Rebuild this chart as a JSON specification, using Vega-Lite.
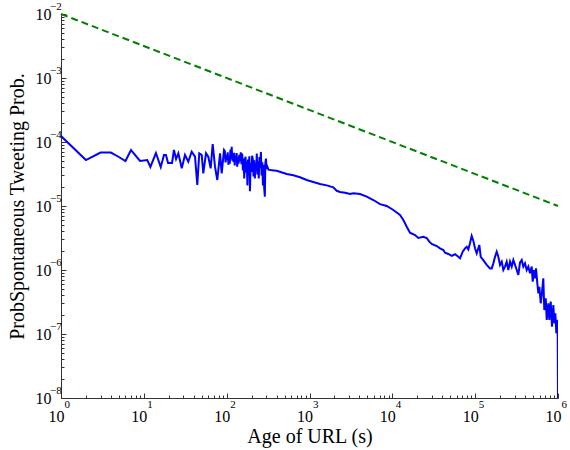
{
  "$schema": "https://vega.github.io/schema/vega-lite/v6.json",
  "width": 497,
  "height": 384,
  "autosize": "none",
  "padding": {"left": 61, "top": 14, "right": 12, "bottom": 52},
  "background": "white",
  "config": {
    "view": {"stroke": null},
    "font": "Liberation Serif",
    "axis": {
      "grid": false,
      "domainColor": "#333333",
      "domainWidth": 1,
      "tickColor": "#333333",
      "tickWidth": 1,
      "labelFont": "Liberation Serif",
      "labelFontSize": 16,
      "labelColor": "black",
      "labelOverlap": false,
      "labelFlush": false,
      "titleFont": "Liberation Serif",
      "titleFontSize": 20,
      "titleFontWeight": "normal",
      "titleColor": "black"
    }
  },
  "encoding": {
    "x": {
      "field": "age",
      "type": "quantitative",
      "scale": {"type": "log", "domain": [1, 1000000], "nice": false},
      "axis": {
        "title": "Age of URL (s)",
        "values": [1, 2, 3, 4, 5, 6, 7, 8, 9, 10, 20, 30, 40, 50, 60, 70, 80, 90, 100, 200, 300, 400, 500, 600, 700, 800, 900, 1000, 2000, 3000, 4000, 5000, 6000, 7000, 8000, 9000, 10000, 20000, 30000, 40000, 50000, 60000, 70000, 80000, 90000, 100000, 200000, 300000, 400000, 500000, 600000, 700000, 800000, 900000, 1000000],
        "labelExpr": "abs(log(datum.value)/LN10 - round(log(datum.value)/LN10)) < 0.01 ? '10' : ''",
        "tickSize": {"condition": {"test": "abs(log(datum.value)/LN10 - round(log(datum.value)/LN10)) < 0.01", "value": -5}, "value": -3},
        "labelPadding": 15,
        "labelOffset": -5,
        "titlePadding": 0
      }
    },
    "y": {
      "field": "p",
      "type": "quantitative",
      "scale": {"type": "log", "domain": [1e-8, 1e-2], "nice": false},
      "axis": {
        "title": "ProbSpontaneous Tweeting Prob.",
        "values": [1e-8, 2e-8, 3e-8, 4e-8, 5e-8, 6e-8, 7e-8, 8e-8, 9e-8, 1e-7, 2e-7, 3e-7, 4e-7, 5e-7, 6e-7, 7e-7, 8e-7, 9e-7, 1e-6, 2e-6, 3e-6, 4e-6, 5e-6, 6e-6, 7e-6, 8e-6, 9e-6, 1e-5, 2e-5, 3e-5, 4e-5, 5e-5, 6e-5, 7e-5, 8e-5, 9e-5, 1e-4, 2e-4, 3e-4, 4e-4, 5e-4, 6e-4, 7e-4, 8e-4, 9e-4, 1e-3, 2e-3, 3e-3, 4e-3, 5e-3, 6e-3, 7e-3, 8e-3, 9e-3, 1e-2],
        "labelExpr": "abs(log(datum.value)/LN10 - round(log(datum.value)/LN10)) < 0.01 ? '10' : ''",
        "tickSize": {"condition": {"test": "abs(log(datum.value)/LN10 - round(log(datum.value)/LN10)) < 0.01", "value": -5}, "value": -3},
        "labelPadding": 15,
        "titlePadding": 8
      }
    }
  },
  "layer": [
    {
      "data": {"values": [{"age": 1, "p": 0.01}, {"age": 1000000, "p": 0.00001}]},
      "mark": {"type": "line", "color": "#008000", "strokeWidth": 2, "strokeDash": [7, 4]}
    },
    {
      "data": {"values": [
        {"age": 1, "p": 1.24e-4}, {"age": 2, "p": 5.23e-5}, {"age": 3, "p": 6.85e-5}, {"age": 4, "p": 6.85e-5},
        {"age": 5, "p": 5.83e-5}, {"age": 6, "p": 5.05e-5}, {"age": 7, "p": 7.5e-5}, {"age": 9, "p": 5.05e-5},
        {"age": 11, "p": 5.23e-5}, {"age": 12, "p": 4.07e-5}, {"age": 14, "p": 6.73e-5}, {"age": 16, "p": 4.07e-5},
        {"age": 17.5, "p": 6.27e-5}, {"age": 18.5, "p": 6.27e-5}, {"age": 19.6, "p": 4.7e-5}, {"age": 21.9, "p": 4.7e-5},
        {"age": 23.1, "p": 7.5e-5}, {"age": 24.5, "p": 5.42e-5}, {"age": 26.1, "p": 6.66e-5}, {"age": 28.7, "p": 3.88e-5},
        {"age": 31.4, "p": 6.27e-5}, {"age": 34.4, "p": 4.92e-5}, {"age": 37.8, "p": 7.05e-5}, {"age": 41.5, "p": 5.89e-5},
        {"age": 44.2, "p": 2.13e-5}, {"age": 46.7, "p": 6.66e-5}, {"age": 50, "p": 6.27e-5}, {"age": 52.2, "p": 3.24e-5},
        {"age": 56.3, "p": 6.66e-5}, {"age": 60, "p": 5.89e-5}, {"age": 64.1, "p": 3.88e-5}, {"age": 67.8, "p": 9.31e-5},
        {"age": 72.3, "p": 4.11e-5}, {"age": 77.1, "p": 2.55e-5}, {"age": 83.2, "p": 6.66e-5}, {"age": 87.1, "p": 3.24e-5},
        {"age": 92.9, "p": 7.5e-5}, {"age": 95, "p": 7.2e-5}, {"age": 97, "p": 4.8e-5}, {"age": 99, "p": 6.3e-5},
        {"age": 101, "p": 5.2e-5}, {"age": 103, "p": 6.9e-5}, {"age": 105, "p": 4.4e-5}, {"age": 107, "p": 5.9e-5},
        {"age": 109, "p": 4.6e-5}, {"age": 111, "p": 7.6e-5}, {"age": 113, "p": 5.5e-5}, {"age": 115, "p": 8.4e-5},
        {"age": 117, "p": 5.1e-5}, {"age": 119, "p": 6.2e-5}, {"age": 121, "p": 4.9e-5}, {"age": 123, "p": 6.8e-5},
        {"age": 125, "p": 4.3e-5}, {"age": 127, "p": 6.0e-5}, {"age": 130, "p": 5.3e-5}, {"age": 132, "p": 6.7e-5},
        {"age": 134, "p": 4.1e-5}, {"age": 137, "p": 5.8e-5}, {"age": 139, "p": 4.6e-5}, {"age": 142, "p": 6.3e-5},
        {"age": 145, "p": 5.0e-5}, {"age": 148, "p": 6.9e-5}, {"age": 151, "p": 4.5e-5}, {"age": 154, "p": 6.6e-5},
        {"age": 157, "p": 3.6e-5}, {"age": 160, "p": 5.5e-5}, {"age": 163, "p": 2.7e-5}, {"age": 166, "p": 5.2e-5},
        {"age": 169, "p": 5.9e-5}, {"age": 172, "p": 3.3e-5}, {"age": 175, "p": 4.9e-5}, {"age": 178, "p": 2.1e-5},
        {"age": 181, "p": 5.3e-5}, {"age": 184, "p": 4.0e-5}, {"age": 188, "p": 6.0e-5}, {"age": 191, "p": 1.7e-5},
        {"age": 195, "p": 4.7e-5}, {"age": 199, "p": 3.4e-5}, {"age": 203, "p": 6.1e-5}, {"age": 207, "p": 5.4e-5},
        {"age": 211, "p": 2.9e-5}, {"age": 215, "p": 5.2e-5}, {"age": 219, "p": 2.7e-5}, {"age": 223, "p": 4.6e-5},
        {"age": 227, "p": 3.5e-5}, {"age": 231, "p": 6.6e-5}, {"age": 235, "p": 3.1e-5}, {"age": 239, "p": 5.0e-5},
        {"age": 244, "p": 2.7e-5}, {"age": 249, "p": 5.8e-5}, {"age": 254, "p": 3.9e-5}, {"age": 259, "p": 7.0e-5},
        {"age": 264, "p": 3.0e-5}, {"age": 269, "p": 4.8e-5}, {"age": 274, "p": 2.1e-5}, {"age": 279, "p": 4.4e-5},
        {"age": 284, "p": 1.9e-5}, {"age": 289, "p": 1.4e-5}, {"age": 293, "p": 4.6e-5}, {"age": 298, "p": 5.5e-5},
        {"age": 303, "p": 3.8e-5}, {"age": 310, "p": 4.1e-5}, {"age": 320, "p": 3.7e-5}, {"age": 340, "p": 3.65e-5},
        {"age": 370, "p": 3.6e-5}, {"age": 402, "p": 3.56e-5}, {"age": 531, "p": 3.16e-5}, {"age": 638, "p": 3.02e-5},
        {"age": 768, "p": 2.81e-5}, {"age": 925, "p": 2.55e-5}, {"age": 1112, "p": 2.37e-5}, {"age": 1339, "p": 2.21e-5},
        {"age": 1614, "p": 2.1e-5}, {"age": 1938, "p": 1.96e-5}, {"age": 2130, "p": 1.73e-5}, {"age": 2335, "p": 1.66e-5},
        {"age": 2684, "p": 1.61e-5}, {"age": 3085, "p": 1.54e-5}, {"age": 3383, "p": 1.58e-5}, {"age": 4074, "p": 1.54e-5},
        {"age": 4910, "p": 1.4e-5}, {"age": 5895, "p": 1.24e-5}, {"age": 7100, "p": 1.07e-5}, {"age": 8550, "p": 1.0e-5},
        {"age": 10280, "p": 8.66e-6}, {"age": 12380, "p": 7.23e-6}, {"age": 13580, "p": 6.04e-6}, {"age": 14920, "p": 4.75e-6},
        {"age": 16340, "p": 3.83e-6}, {"age": 18790, "p": 3.52e-6}, {"age": 20600, "p": 3.16e-6}, {"age": 23660, "p": 3.31e-6},
        {"age": 26000, "p": 3.16e-6}, {"age": 27930, "p": 2.77e-6}, {"age": 29870, "p": 2.55e-6}, {"age": 34360, "p": 2.37e-6},
        {"age": 37670, "p": 2.18e-6}, {"age": 41300, "p": 2.05e-6}, {"age": 43270, "p": 1.86e-6}, {"age": 47440, "p": 1.78e-6},
        {"age": 52120, "p": 1.66e-6}, {"age": 57150, "p": 1.76e-6}, {"age": 62660, "p": 1.61e-6}, {"age": 65630, "p": 1.52e-6},
        {"age": 70730, "p": 1.93e-6}, {"age": 75420, "p": 2.18e-6}, {"age": 79070, "p": 2.31e-6}, {"age": 82670, "p": 2.1e-6},
        {"age": 86620, "p": 2.61e-6}, {"age": 90800, "p": 3.4e-6}, {"age": 95000, "p": 2.87e-6}, {"age": 99600, "p": 2.18e-6},
        {"age": 104300, "p": 1.82e-6}, {"age": 109100, "p": 2.18e-6}, {"age": 112200, "p": 2.46e-6}, {"age": 116700, "p": 1.61e-6},
        {"age": 125400, "p": 1.43e-6}, {"age": 137800, "p": 1.2e-6}, {"age": 151000, "p": 1.06e-6}, {"age": 158500, "p": 1.06e-6},
        {"age": 165700, "p": 1.27e-6}, {"age": 173700, "p": 1.61e-6}, {"age": 182000, "p": 1.93e-6}, {"age": 190400, "p": 1.61e-6},
        {"age": 199700, "p": 1.2e-6}, {"age": 209300, "p": 1.35e-6}, {"age": 218800, "p": 1.0e-6}, {"age": 229300, "p": 1.13e-6},
        {"age": 240300, "p": 1.35e-6}, {"age": 251400, "p": 1.0e-6}, {"age": 263600, "p": 1.35e-6}, {"age": 276200, "p": 1.13e-6},
        {"age": 288900, "p": 1.43e-6}, {"age": 302800, "p": 1.2e-6}, {"age": 317500, "p": 1.0e-6}, {"age": 332100, "p": 8.36e-7},
        {"age": 347800, "p": 1.3e-6}, {"age": 364700, "p": 1.43e-6}, {"age": 381300, "p": 1.13e-6}, {"age": 399600, "p": 1.27e-6},
        {"age": 418700, "p": 1.0e-6}, {"age": 438200, "p": 1.13e-6}, {"age": 459100, "p": 8.87e-7}, {"age": 481500, "p": 1.13e-6},
        {"age": 495200, "p": 6.56e-7}, {"age": 513300, "p": 1.0e-6}, {"age": 528000, "p": 7.41e-7}, {"age": 543000, "p": 1.06e-6},
        {"age": 562800, "p": 6.19e-7}, {"age": 579200, "p": 4.32e-7}, {"age": 595700, "p": 5.48e-7}, {"age": 618700, "p": 3.02e-7},
        {"age": 636000, "p": 4.07e-7}, {"age": 664700, "p": 7.41e-7}, {"age": 683300, "p": 2.37e-7}, {"age": 711100, "p": 3.61e-7},
        {"age": 731100, "p": 1.66e-7}, {"age": 764200, "p": 3.02e-7}, {"age": 785700, "p": 1.66e-7}, {"age": 816600, "p": 3.2e-7},
        {"age": 846900, "p": 1.3e-7}, {"age": 878600, "p": 2.84e-7}, {"age": 903200, "p": 1.47e-7}, {"age": 928500, "p": 2.1e-7},
        {"age": 954500, "p": 1.03e-7}, {"age": 975000, "p": 1.66e-7}, {"age": 992000, "p": 9.1e-8}, {"age": 1000000, "p": 1e-8}
      ]},
      "mark": {"type": "line", "color": "#0000ff", "strokeWidth": 2, "clip": true}
    },
    {
      "data": {"values": [
        {"age": 1, "p": 1e-8, "exp": "0"}, {"age": 10, "p": 1e-8, "exp": "1"}, {"age": 100, "p": 1e-8, "exp": "2"},
        {"age": 1000, "p": 1e-8, "exp": "3"}, {"age": 10000, "p": 1e-8, "exp": "4"}, {"age": 100000, "p": 1e-8, "exp": "5"},
        {"age": 1000000, "p": 1e-8, "exp": "6"}
      ]},
      "mark": {"type": "text", "font": "Liberation Serif", "fontSize": 11, "color": "black", "align": "left", "baseline": "middle", "dx": 3.5, "dy": 7},
      "encoding": {"text": {"field": "exp"}}
    },
    {
      "data": {"values": [
        {"age": 1, "p": 1e-2, "exp": "−2"}, {"age": 1, "p": 1e-3, "exp": "−3"}, {"age": 1, "p": 1e-4, "exp": "−4"},
        {"age": 1, "p": 1e-5, "exp": "−5"}, {"age": 1, "p": 1e-6, "exp": "−6"}, {"age": 1, "p": 1e-7, "exp": "−7"},
        {"age": 1, "p": 1e-8, "exp": "−8"}
      ]},
      "mark": {"type": "text", "font": "Liberation Serif", "fontSize": 11, "color": "black", "align": "left", "baseline": "middle", "dx": -11, "dy": -7},
      "encoding": {"text": {"field": "exp"}}
    }
  ]
}
